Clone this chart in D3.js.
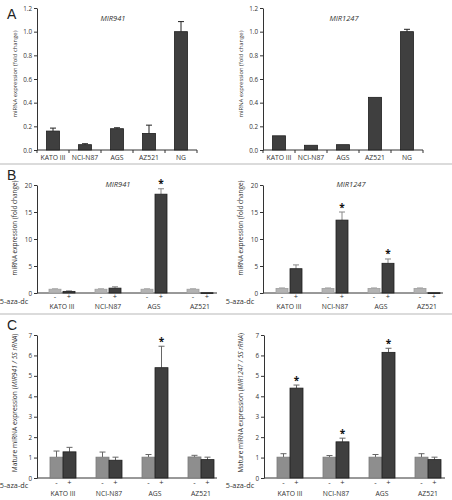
<!DOCTYPE html>
<html><head><meta charset="utf-8">
<script src="https://cdn.jsdelivr.net/npm/d3@7"></script>
<style>
body{margin:0;background:#fff;}
svg{display:block;font-family:"Open Sans",sans-serif;font-variant-ligatures:none;font-feature-settings:"liga" 0;}
</style></head>
<body><svg id="c" width="452" height="500"></svg>
<script>
// ---------- data ----------
const cellsA = ["KATO III","NCI-N87","AGS","AZ521","NG"];
const a941 = [0.16,0.045,0.18,0.14,1.0];
const a941Err = [0.025,0.008,0.008,0.07,0.085];
const a1247 = [0.12,0.04,0.045,0.445,1.0];
const a1247Err = [0,0,0,0,0.02];
const ticksA = [0,0.2,0.4,0.6,0.8,1.0,1.2];

const cellsBC = ["KATO III","NCI-N87","AGS","AZ521"];
const b941Minus = [0.7,0.7,0.7,0.7];
const b941MinusErr = [0.12,0.12,0.12,0.12];
const b941Plus = [0.3,0.9,18.3,0.05];
const b941PlusErr = [0.1,0.25,1.0,0];
const b941Star = [false,false,true,false];
const b1247Minus = [0.85,0.85,0.85,0.85];
const b1247MinusErr = [0.12,0.12,0.12,0.12];
const b1247Plus = [4.5,13.5,5.5,0.05];
const b1247PlusErr = [0.7,1.5,0.8,0];
const b1247Star = [false,true,true,false];
const ticksB = [0,5,10,15,20];

const c941Minus = [1.02,1.02,1.02,1.03];
const c941MinusErr = [0.3,0.25,0.13,0.08];
const c941Plus = [1.28,0.87,5.4,0.9];
const c941PlusErr = [0.22,0.15,1.05,0.12];
const c941Star = [false,false,true,false];
const c1247Minus = [1.02,1.02,1.02,1.02];
const c1247MinusErr = [0.17,0.08,0.13,0.17];
const c1247Plus = [4.4,1.77,6.15,0.9];
const c1247PlusErr = [0.15,0.18,0.2,0.12];
const c1247Star = [true,true,true,false];
const ticksC = [0,1,2,3,4,5,6,7];

const treatLabels = ["-","+"];

// ---------- drawing ----------
const svg = d3.select("#c");
const DARK = "#3f3f3f", DARKSTROKE = "#1e1e1e";
const TXT = "#333";

function fitText(sel, target){
  const len = sel.node().getComputedTextLength();
  const fs = parseFloat(sel.attr("font-size"));
  if(len>0) sel.attr("font-size", fs*target/len);
}

function panel(o){
  const g = svg.append("g");
  const y = d3.scaleLinear().domain([0,o.max]).range([o.yBottom,o.yTop]);
  const x = d3.scaleBand().domain(o.cats).range([o.xLeft,o.xRight]);
  const ya = d3.axisLeft(y).tickValues(o.ticks).tickFormat(o.fmt).tickSize(3).tickSizeOuter(0).tickPadding(2);
  const yg = g.append("g").attr("transform",`translate(${o.axisX},0)`).call(ya);
  yg.select(".domain").attr("stroke","#333");
  yg.selectAll(".tick line").attr("stroke","#333");
  yg.selectAll(".tick text").attr("font-size",6.3).attr("fill",TXT).attr("font-family","'Open Sans',sans-serif");
  g.append("line").attr("x1",o.axisX).attr("x2",o.xEnd).attr("y1",o.yBottom).attr("y2",o.yBottom)
    .attr("stroke","#333").attr("stroke-width",1);
  if(o.xTicks){
    const bounds = o.cats.map(c=>x(c)).concat([o.xRight]);
    g.selectAll(".xt").data(bounds).join("line")
      .attr("x1",d=>d).attr("x2",d=>d).attr("y1",o.yBottom).attr("y2",o.yBottom+3)
      .attr("stroke","#333");
  }
  o.series.forEach(s=>{
    o.cats.forEach((c,i)=>{
      const cx = x(c)+x.bandwidth()/2 + s.offset;
      const v = s.values[i];
      const e = s.errs ? s.errs[i] : 0;
      if(e>0){
        g.append("line").attr("x1",cx).attr("x2",cx).attr("y1",y(v)).attr("y2",y(v+e))
          .attr("stroke",s.errColor).attr("stroke-width",1);
        g.append("line").attr("x1",cx-3).attr("x2",cx+3).attr("y1",y(v+e)).attr("y2",y(v+e))
          .attr("stroke",s.errColor).attr("stroke-width",1);
      }
      g.append("rect").attr("x",cx-o.barW/2).attr("width",o.barW)
        .attr("y",y(v)).attr("height",Math.max(0.8,o.yBottom-y(v)))
        .attr("fill",s.fill).attr("stroke",s.stroke).attr("stroke-width",0.8);
      if(s.stars && s.stars[i]){
        g.append("text").attr("x",cx).attr("y",y(v+e)-1.5).attr("text-anchor","middle")
          .attr("font-size",10).attr("font-weight","bold").attr("fill","#111").text("*");
      }
      if(o.treat){
        g.append("text").attr("x",cx).attr("y",o.treatY).attr("text-anchor","middle")
          .attr("font-size",7.5).attr("fill",TXT).text(s.treat);
      }
    });
  });
  g.selectAll(".cl").data(o.cats).join("text")
    .attr("x",c=>x(c)+x.bandwidth()/2).attr("y",o.catY).attr("text-anchor","middle")
    .attr("font-size",6.8).attr("fill",TXT).text(c=>c);
  if(o.title){
    g.append("text").attr("x",o.titleX).attr("y",o.titleY).attr("text-anchor","middle")
      .attr("font-size",7.5).attr("font-style","italic").attr("fill",TXT).text(o.title);
  }
  const yl = g.append("text").attr("transform",`translate(${o.ylabX},${o.ylabY}) rotate(-90)`)
    .attr("text-anchor","middle").attr("font-size",7).attr("fill",TXT);
  o.ylab.forEach(p=>{ yl.append("tspan").attr("font-style",p.it?"italic":null).text(p.t); });
  fitText(yl, o.ylabLen);
  if(o.azaLabel){
    g.append("text").attr("x",o.azaX).attr("y",o.azaY).attr("text-anchor","middle")
      .attr("font-size",7.3).attr("fill",TXT).text("5-aza-dc");
  }
}

const fmtA = d3.format(".1f"), fmtI = d3.format("d");
const ylabA = [{t:"miRNA expression  (fold change)"}];

// Panel A
panel({cats:cellsA,max:1.2,yBottom:150,yTop:8,xLeft:37,xRight:197,axisX:37,xEnd:197,xTicks:true,
  ticks:ticksA,fmt:fmtA,barW:13,catY:160,title:"MIR941",titleX:113,titleY:21,
  ylab:ylabA,ylabX:17,ylabY:74,ylabLen:87,
  series:[{values:a941,errs:a941Err,fill:DARK,stroke:DARKSTROKE,errColor:"#222",offset:0}]});
panel({cats:cellsA,max:1.2,yBottom:150,yTop:8,xLeft:263,xRight:423,axisX:263,xEnd:423,xTicks:true,
  ticks:ticksA,fmt:fmtA,barW:13,catY:160,title:"MIR1247",titleX:344,titleY:21,
  ylab:ylabA,ylabX:243,ylabY:74,ylabLen:87,
  series:[{values:a1247,errs:a1247Err,fill:DARK,stroke:DARKSTROKE,errColor:"#222",offset:0}]});

// Panel B
const LIGHTB = "#b3b3b3";
panel({cats:cellsBC,max:20,yBottom:293,yTop:185,xLeft:39,xRight:223,axisX:37,xEnd:217,
  ticks:ticksB,fmt:fmtI,barW:12,catY:309,title:"MIR941",titleX:118,titleY:187,
  ylab:ylabA,ylabX:17,ylabY:228,ylabLen:95,treat:true,treatY:299,azaLabel:true,azaX:14,azaY:304,
  series:[
    {values:b941Minus,errs:b941MinusErr,fill:LIGHTB,stroke:"#a0a0a0",errColor:"#b8b8b8",offset:-7,treat:treatLabels[0]},
    {values:b941Plus,errs:b941PlusErr,fill:DARK,stroke:DARKSTROKE,errColor:"#888",offset:7,treat:treatLabels[1],stars:b941Star}]});
panel({cats:cellsBC,max:20,yBottom:293,yTop:185,xLeft:266,xRight:450,axisX:263,xEnd:443,
  ticks:ticksB,fmt:fmtI,barW:12,catY:309,title:"MIR1247",titleX:351,titleY:187,
  ylab:ylabA,ylabX:243,ylabY:228,ylabLen:95,treat:true,treatY:299,azaLabel:true,azaX:240,azaY:304,
  series:[
    {values:b1247Minus,errs:b1247MinusErr,fill:LIGHTB,stroke:"#a0a0a0",errColor:"#b8b8b8",offset:-7,treat:treatLabels[0]},
    {values:b1247Plus,errs:b1247PlusErr,fill:DARK,stroke:DARKSTROKE,errColor:"#888",offset:7,treat:treatLabels[1],stars:b1247Star}]});

// Panel C
const LIGHTC = "#8e8e8e";
panel({cats:cellsBC,max:7,yBottom:478,yTop:335,xLeft:40,xRight:224,axisX:37,xEnd:217,
  ticks:ticksC,fmt:fmtI,barW:13,catY:496,
  ylab:[{t:"Mature miRNA expression ("},{t:"MIR941 / 5S rRNA",it:true},{t:")"}],ylabX:17,ylabY:403,ylabLen:139,
  treat:true,treatY:485,azaLabel:true,azaX:14,azaY:488,
  series:[
    {values:c941Minus,errs:c941MinusErr,fill:LIGHTC,stroke:"#7a7a7a",errColor:"#666",offset:-6.5,treat:treatLabels[0]},
    {values:c941Plus,errs:c941PlusErr,fill:DARK,stroke:DARKSTROKE,errColor:"#666",offset:6.5,treat:treatLabels[1],stars:c941Star}]});
panel({cats:cellsBC,max:7,yBottom:478,yTop:335,xLeft:267,xRight:451,axisX:264,xEnd:445,
  ticks:ticksC,fmt:fmtI,barW:13,catY:496,
  ylab:[{t:"Mature miRNA expression ("},{t:"MIR1247 / 5S rRNA",it:true},{t:")"}],ylabX:243,ylabY:403,ylabLen:140,
  treat:true,treatY:485,azaLabel:true,azaX:240,azaY:488,
  series:[
    {values:c1247Minus,errs:c1247MinusErr,fill:LIGHTC,stroke:"#7a7a7a",errColor:"#666",offset:-6.5,treat:treatLabels[0]},
    {values:c1247Plus,errs:c1247PlusErr,fill:DARK,stroke:DARKSTROKE,errColor:"#666",offset:6.5,treat:treatLabels[1],stars:c1247Star}]});

// separators and panel letters
[164,314].forEach(yy=>svg.append("line").attr("x1",0).attr("x2",452).attr("y1",yy).attr("y2",yy)
  .attr("stroke","#cfcfcf").attr("stroke-width",1.5));
[["A",7,19],["B",7,180],["C",7,330]].forEach(([t,xx,yy])=>svg.append("text").attr("x",xx).attr("y",yy)
  .attr("font-family","'Liberation Sans',Arial,sans-serif").attr("font-size",14).attr("fill","#222").text(t));
</script></body></html>
